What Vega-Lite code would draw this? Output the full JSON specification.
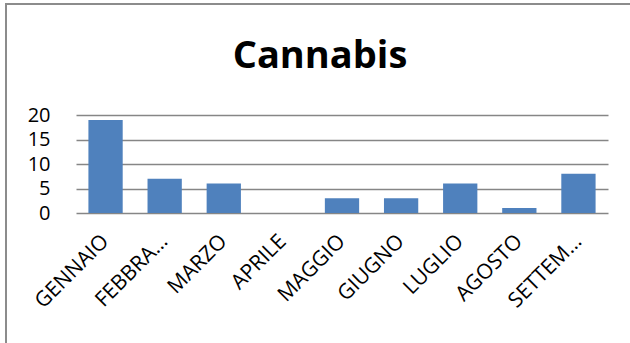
{
  "$schema": "https://vega.github.io/schema/vega-lite/v6.json",
  "width": 628,
  "height": 343,
  "autosize": "none",
  "padding": {"left": 6, "top": 4, "right": -4, "bottom": -4},
  "background": "white",
  "title": {
    "text": "Cannabis",
    "font": "Open Sans",
    "fontSize": 38,
    "fontWeight": "bold",
    "color": "#000000",
    "anchor": "middle",
    "frame": "group",
    "baseline": "alphabetic",
    "offset": -102
  },
  "data": {
    "values": [
      {"mese": "GENNAIO", "casi": 19},
      {"mese": "FEBBRAIO", "casi": 7},
      {"mese": "MARZO", "casi": 6},
      {"mese": "APRILE", "casi": 0},
      {"mese": "MAGGIO", "casi": 3},
      {"mese": "GIUGNO", "casi": 3},
      {"mese": "LUGLIO", "casi": 6},
      {"mese": "AGOSTO", "casi": 1},
      {"mese": "SETTEMBRE", "casi": 8}
    ]
  },
  "mark": {"type": "bar", "color": "#4F81BD"},
  "encoding": {
    "x": {
      "field": "mese",
      "type": "nominal",
      "sort": null,
      "scale": {"range": [70, 602], "paddingInner": 0.42, "paddingOuter": 0.21},
      "axis": {
        "title": null,
        "offset": -134,
        "labelAngle": -45,
        "labelAlign": "right",
        "labelBaseline": "middle",
        "labelFont": "Open Sans",
        "labelFontSize": 21,
        "labelColor": "#000000",
        "labelLimit": 97,
        "labelPadding": 25,
        "ticks": false,
        "domain": false
      }
    },
    "y": {
      "field": "casi",
      "type": "quantitative",
      "scale": {"domain": [0, 20], "nice": false, "range": [209, 111]},
      "axis": {
        "title": null,
        "offset": -70,
        "values": [0, 5, 10, 15, 20],
        "labelFont": "Open Sans",
        "labelFontSize": 20,
        "labelColor": "#000000",
        "labelPadding": 26,
        "ticks": false,
        "domain": false,
        "gridColor": "#868686",
        "gridWidth": 1.6,
        "gridOpacity": 1
      }
    }
  },
  "config": {"view": {"stroke": "#8c8c8c", "strokeWidth": 2}}
}
